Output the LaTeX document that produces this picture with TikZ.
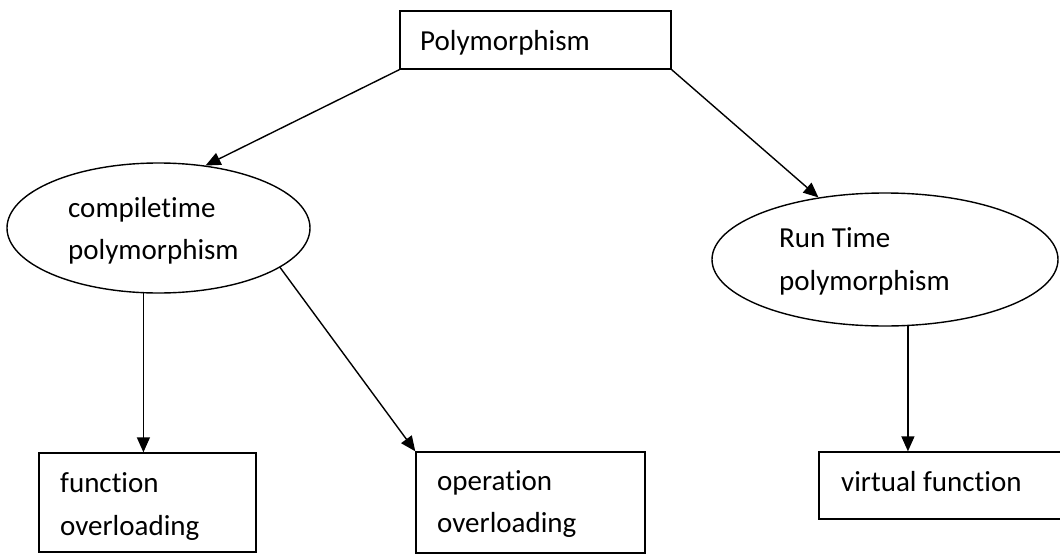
\documentclass[tikz,border=0pt]{standalone}
\usepackage{fontspec}
\setmainfont{Carlito}[Ligatures=NoCommon]
\usetikzlibrary{arrows.meta,shapes.geometric}

\begin{document}
\begin{tikzpicture}[x=1pt,y=-1pt,
  box/.style={draw, line width=1.4pt, rectangle, inner sep=0pt},
  oval/.style={draw, line width=1.4pt, ellipse, inner sep=0pt},
  lbl/.style={anchor=base west, inner sep=0pt, font=\fontsize{29}{42}\selectfont},
  link/.style={line width=1.4pt, -{Triangle[length=15pt,width=13pt]}}]

\useasboundingbox (0,0) rectangle (1060,554);

% root box
\node[box, minimum width=271pt, minimum height=58pt] (poly) at (535.5,40) {};
\node[lbl] (polyt) at (420,50) {Polymorphism};

% second level
\node[oval, minimum width=303pt, minimum height=130pt] (lell) at (158.5,228) {};
\node[lbl] (lellt1) at (68,217) {compiletime};
\node[lbl] (lellt2) at (68,259) {polymorphism};

\node[oval, minimum width=346pt, minimum height=133pt] (rell) at (885,259.5) {};
\node[lbl] (rellt1) at (779,247) {Run Time};
\node[lbl] (rellt2) at (779,290) {polymorphism};

% leaves
\node[box, minimum width=217pt, minimum height=99pt] (fbox) at (147.5,502.5) {};
\node[lbl] (fboxt1) at (60,492) {function};
\node[lbl] (fboxt2) at (60,535) {overloading};

\node[box, minimum width=229pt, minimum height=101pt] (opbox) at (530.5,502.5) {};
\node[lbl] (opboxt1) at (437,490) {operation};
\node[lbl] (opboxt2) at (437,532) {overloading};

\node[box, minimum width=243pt, minimum height=67pt] (vbox) at (940.5,485.5) {};
\node[lbl] (vboxt) at (841,491) {virtual function};

% connectors
\draw[link] (poly.south west) -- (lell.53);
\draw[link] (poly.south east) -- (rell.137.5);
\draw[link] (lell.257.4) -- (lell.257.4 |- fbox.north);
\draw[link] (lell.342.9) -- (opbox.north west);
\draw[link] (rell.289.2) -- (rell.289.2 |- vbox.north);
\end{tikzpicture}
\end{document}
